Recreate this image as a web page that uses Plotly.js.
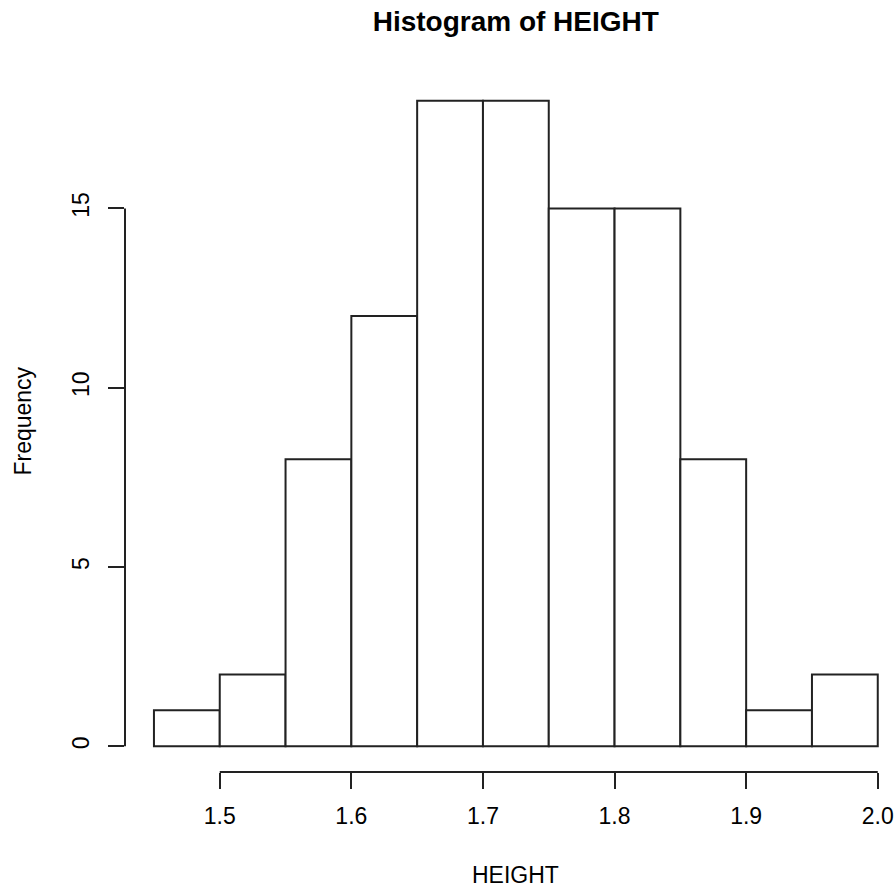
<!DOCTYPE html>
<html>
<head>
<meta charset="utf-8">
<script src="https://cdn.plot.ly/plotly-3.0.1.min.js"></script>
<style>
html,body{margin:0;padding:0;background:#fff;}
#chart{width:895px;height:887px;}
</style>
</head>
<body>
<div id="chart"></div>
<script>
// Histogram data
const binLeft = [1.45, 1.50, 1.55, 1.60, 1.65, 1.70, 1.75, 1.80, 1.85, 1.90, 1.95];
const binWidth = 0.05;
const counts = [1, 2, 8, 12, 18, 18, 15, 15, 8, 1, 2];
const xTickVals = [1.5, 1.6, 1.7, 1.8, 1.9, 2.0];
const xTickText = ["1.5", "1.6", "1.7", "1.8", "1.9", "2.0"];
const yTickVals = [0, 5, 10, 15];
const yTickText = ["0", "5", "10", "15"];

const FONT = "Liberation Sans, Arial, sans-serif";
const LINE = "#222";
const FS = 23;

const trace = {
  type: "bar", x: binLeft, y: counts,
  width: binLeft.map(() => binWidth), offset: 0,
  marker: {color: "#ffffff", line: {color: LINE, width: 2}}, hoverinfo: "none"
};

const layout = {
  width: 895, height: 887,
  margin: {l: 124.5, r: 0, t: 75, b: 115, pad: 0},
  paper_bgcolor: "#fff", plot_bgcolor: "#fff", showlegend: false,
  font: {family: FONT, size: FS, color: "#000"},
  title: {
    text: "<b>Histogram of HEIGHT</b>",
    font: {family: FONT, size: 28, color: "#000"},
    xref: "paper", x: 0.5075, xanchor: "center",
    yref: "container", y: 1 - 20.8 / 887, yanchor: "middle"
  },
  xaxis: {
    range: [1.428, 2.0131], showgrid: false, zeroline: false, showline: false,
    tickmode: "array", tickvals: xTickVals, ticktext: xTickText,
    ticks: "outside", ticklen: 16, tickwidth: 2, tickcolor: LINE, ticklabelstandoff: 7,
    tickfont: {family: FONT, size: FS, color: "#000"}, automargin: false, fixedrange: true
  },
  yaxis: {
    range: [-0.72, 18.72], showgrid: false, zeroline: false, showline: false,
    tickmode: "array", tickvals: yTickVals, ticktext: yTickText,
    ticks: "outside", ticklen: 16, tickwidth: 2, tickcolor: LINE, tickangle: -90, ticklabelstandoff: 10,
    tickfont: {family: FONT, size: FS, color: "#000"}, automargin: false, fixedrange: true
  },
  shapes: [
    {type: "line", xref: "x", yref: "paper", x0: xTickVals[0], x1: xTickVals[xTickVals.length - 1], y0: 0, y1: 0,
     line: {color: LINE, width: 2}},
    {type: "line", xref: "paper", yref: "y", x0: 0, x1: 0, y0: yTickVals[0], y1: yTickVals[yTickVals.length - 1],
     line: {color: LINE, width: 2}}
  ],
  annotations: [
    {text: "HEIGHT", xref: "paper", yref: "paper", x: 0.5075, y: (772 - 875) / 697,
     xanchor: "center", yanchor: "middle", showarrow: false, font: {family: FONT, size: FS, color: "#000"}},
    {text: "Frequency", xref: "paper", yref: "paper", x: (22 - 124.5) / 770.5, y: (772 - 421) / 697,
     xanchor: "center", yanchor: "middle", textangle: -90, showarrow: false, font: {family: FONT, size: FS, color: "#000"}}
  ]
};

Plotly.newPlot("chart", [trace], layout, {displayModeBar: false, staticPlot: true});
</script>
</body>
</html>
